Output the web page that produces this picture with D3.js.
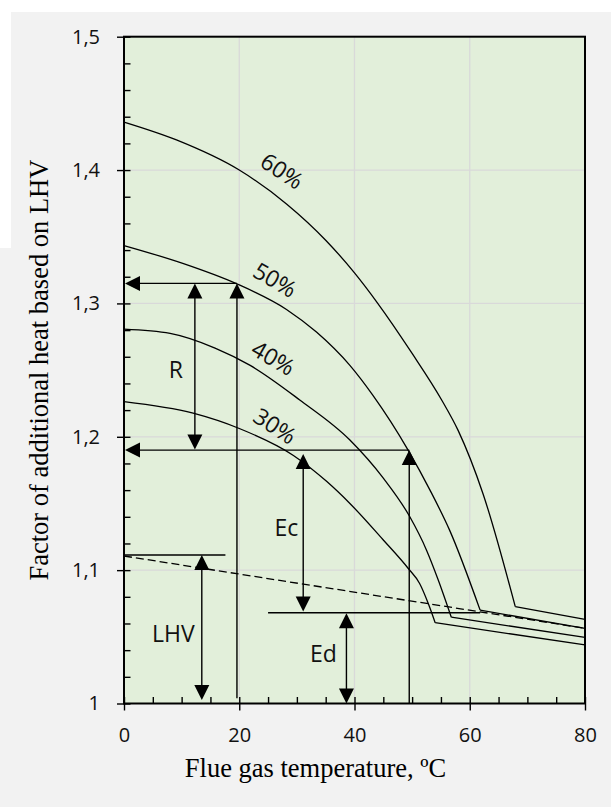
<!DOCTYPE html>
<html><head><meta charset="utf-8">
<script src="https://cdn.jsdelivr.net/npm/d3@7"></script>
<style>body{margin:0;background:#fff}svg{display:block}</style>
</head><body><svg id="c" width="611" height="807"></svg>
<script>
// ---- data ----
const xTicks = [0, 20, 40, 60, 80];
const xTickLabels = ["0", "20", "40", "60", "80"];
const yTicks = [1, 1.1, 1.2, 1.3, 1.4, 1.5];
const yTickLabels = ["1", "1,1", "1,2", "1,3", "1,4", "1,5"];
const xMinor = [0,5,10,15,20,25,30,35,40,45,50,55,60,65,70,75,80];
const yMinor = [1,1.02,1.04,1.06,1.08,1.1,1.12,1.14,1.16,1.18,1.2,1.22,1.24,1.26,1.28,1.3,1.32,1.34,1.36,1.38,1.4,1.42,1.44,1.46,1.48,1.5];

const seriesNames = ["60%", "50%", "40%", "30%"];
const t60 = [0, 9.1, 20, 28.2, 35, 40, 44, 50, 55.1, 58, 62.3, 67.9, 80];
const f60 = [1.436, 1.4226, 1.400, 1.3746, 1.3474, 1.3229, 1.3003, 1.2625, 1.2278, 1.2046, 1.1573, 1.0726, 1.0631];
const t50 = [0, 10.2, 19.4, 28.2, 33.4, 39.2, 43.2, 49.3, 53.1, 56.5, 61.8, 80];
const f50 = [1.3434, 1.330, 1.315, 1.2955, 1.2785, 1.2535, 1.231, 1.190, 1.160, 1.130, 1.070, 1.0564];
const t40 = [0, 8, 15.8, 21.9, 30.5, 39.2, 45.0, 49.6, 52.5, 54.5, 56.8, 80];
const f40 = [1.2807, 1.2775, 1.2665, 1.2535, 1.2276, 1.1976, 1.169, 1.140, 1.115, 1.093, 1.0647, 1.0496];
const t30 = [0, 12.0, 19.9, 29.4, 35.2, 39.2, 45.0, 49.3, 51.3, 52.8, 54.0, 80];
const f30 = [1.2264, 1.2177, 1.2064, 1.186, 1.1664, 1.150, 1.1226, 1.1014, 1.090, 1.075, 1.0606, 1.0439];
const dashedT = [0, 80];
const dashedF = [1.1106, 1.0564];

// reference lines: [t1, t2, f, arrow at left end?]
const hLines = [
  [0, 19.6, 1.315, true],
  [0, 49.5, 1.19, true],
  [0, 17.6, 1.1114, false],
  [25.0, 61.8, 1.068, false]
];
// vertical arrows: [t, fFrom, fTo, headAtTop, headAtBottom]
const vArrows = [
  [19.6, 1.004, 1.315, true, false],
  [49.5, 1.0, 1.19, true, false],
  [12.3, 1.1904, 1.315, true, true],
  [31.1, 1.0689, 1.187, true, true],
  [38.6, 1.0, 1.0676, true, true],
  [13.5, 1.0026, 1.1114, true, true]
];
const annoNames = ["R", "Ec", "LHV", "Ed"];
const annoT = [9.0, 28.2, 8.55, 34.6];
const annoF = [1.25, 1.132, 1.0525, 1.0375];
const curveLabelT = [27.4, 26.2, 25.9, 26.2];
const curveLabelF = [1.3993, 1.3176, 1.2591, 1.2081];
const curveLabelRot = [33, 30, 30, 33];

// ---- drawing ----
const svg = d3.select("#c");
const L = 124, R = 585, T = 36.7, B = 703.5;
const x = d3.scaleLinear().domain([0, 80]).range([L, R]);
const y = d3.scaleLinear().domain([1, 1.5]).range([B, T]);

svg.append("rect").attr("x", 11).attr("y", 12).attr("width", 600).attr("height", 795).attr("fill", "#f2f2f2");
svg.append("rect").attr("x", 0).attr("y", 248).attr("width", 12).attr("height", 559).attr("fill", "#f2f2f2");
svg.append("rect").attr("x", L).attr("y", T).attr("width", R - L).attr("height", B - T).attr("fill", "#e2efda");

// grid
const grid = svg.append("g").attr("stroke", "#d9d9d9").attr("stroke-width", 1.3);
xTicks.slice(1, -1).forEach(v => grid.append("line").attr("x1", x(v)).attr("x2", x(v)).attr("y1", T).attr("y2", B));
yTicks.slice(1, -1).forEach(v => grid.append("line").attr("x1", L).attr("x2", R).attr("y1", y(v)).attr("y2", y(v)));

// curves
const allT = [t60, t50, t40, t30], allF = [f60, f50, f40, f30];
const smooth = d3.line().x(d => x(d[0])).y(d => y(d[1])).curve(d3.curveMonotoneX);
const straight = d3.line().x(d => x(d[0])).y(d => y(d[1]));
const gC = svg.append("g").attr("fill", "none").attr("stroke", "#000").attr("stroke-width", 1.3);
allT.forEach((ts, i) => {
  const pts = ts.map((t, j) => [t, allF[i][j]]);
  const n = pts.length;
  gC.append("path").attr("d", smooth(pts.slice(0, n - 1)));
  gC.append("path").attr("d", straight(pts.slice(n - 2)));
});
gC.append("path").attr("d", straight(dashedT.map((t, j) => [t, dashedF[j]]))).attr("stroke-dasharray", "8,4");

// arrowheads
const AL = 15, AW = 7.5;
function head(px, py, dir) {
  let p;
  if (dir === "up") p = [[px, py], [px - AW, py + AL], [px + AW, py + AL]];
  else if (dir === "down") p = [[px, py], [px - AW, py - AL], [px + AW, py - AL]];
  else p = [[px, py], [px + AL, py - AW], [px + AL, py + AW]];
  svg.append("path").attr("d", "M" + p.map(q => q.join(",")).join("L") + "Z").attr("fill", "#000");
}
const gA = svg.append("g").attr("stroke", "#000").attr("stroke-width", 1.4);
hLines.forEach(h => {
  gA.append("line").attr("x1", x(h[0]) + (h[3] ? 5 : 0)).attr("x2", x(h[1])).attr("y1", y(h[2])).attr("y2", y(h[2]));
  if (h[3]) head(x(h[0]) + 1, y(h[2]), "left");
});
vArrows.forEach(a => {
  gA.append("line").attr("x1", x(a[0])).attr("x2", x(a[0])).attr("y1", y(a[1]) - (a[4] ? 5 : 0)).attr("y2", y(a[2]) + (a[3] ? 5 : 0));
  if (a[3]) head(x(a[0]), y(a[2]), "up");
  if (a[4]) head(x(a[0]), y(a[1]), "down");
});

// labels
const font = "'Open Sans', 'DejaVu Sans', sans-serif";
annoNames.forEach((s, i) => {
  svg.append("text").attr("x", x(annoT[i])).attr("y", y(annoF[i])).attr("dy", "0.36em")
    .attr("text-anchor", "middle").attr("font-family", font).attr("font-size", 23).attr("fill", "#111").text(s);
});
seriesNames.forEach((s, i) => {
  svg.append("text").attr("transform", `translate(${x(curveLabelT[i])},${y(curveLabelF[i])}) rotate(${curveLabelRot[i]})`)
    .attr("dy", "0.36em").attr("text-anchor", "middle").attr("font-family", font).attr("font-size", 23).attr("fill", "#111").text(s);
});

// axes
const ax1 = svg.append("g").attr("transform", `translate(${L},0)`)
  .call(d3.axisLeft(y).tickValues(yTicks).tickFormat((d, i) => yTickLabels[i]).tickSize(7).tickPadding(17));
const ax2 = svg.append("g").attr("transform", `translate(${L},0)`)
  .call(d3.axisRight(y).tickValues(yMinor).tickFormat("").tickSize(6.5));
const ax3 = svg.append("g").attr("transform", `translate(0,${B})`)
  .call(d3.axisBottom(x).tickValues(xTicks).tickFormat((d, i) => xTickLabels[i]).tickSize(7).tickPadding(17.5));
const ax4 = svg.append("g").attr("transform", `translate(0,${B})`)
  .call(d3.axisTop(x).tickValues(xMinor).tickFormat("").tickSize(6.5));
[ax1, ax2, ax3, ax4].forEach(g => {
  g.select(".domain").remove();
  g.selectAll(".tick line").attr("stroke", "#000").attr("stroke-width", 1.4);
  g.selectAll("text").attr("font-family", font).attr("font-size", 20).attr("fill", "#111");
});

svg.append("rect").attr("x", L).attr("y", T).attr("width", R - L).attr("height", B - T)
  .attr("fill", "none").attr("stroke", "#000").attr("stroke-width", 2);

// titles
svg.append("text").attr("x", 315.5).attr("y", 777).attr("text-anchor", "middle")
  .attr("font-family", "'Liberation Serif', 'Times New Roman', serif").attr("font-size", 26.5).attr("fill", "#000")
  .text("Flue gas temperature, ºC");
svg.append("text").attr("transform", `translate(48,${(T + B) / 2}) rotate(-90)`).attr("text-anchor", "middle")
  .attr("font-family", "'Liberation Serif', 'Times New Roman', serif").attr("font-size", 26.5).attr("fill", "#000")
  .text("Factor of additional heat based on LHV");
</script></body></html>
